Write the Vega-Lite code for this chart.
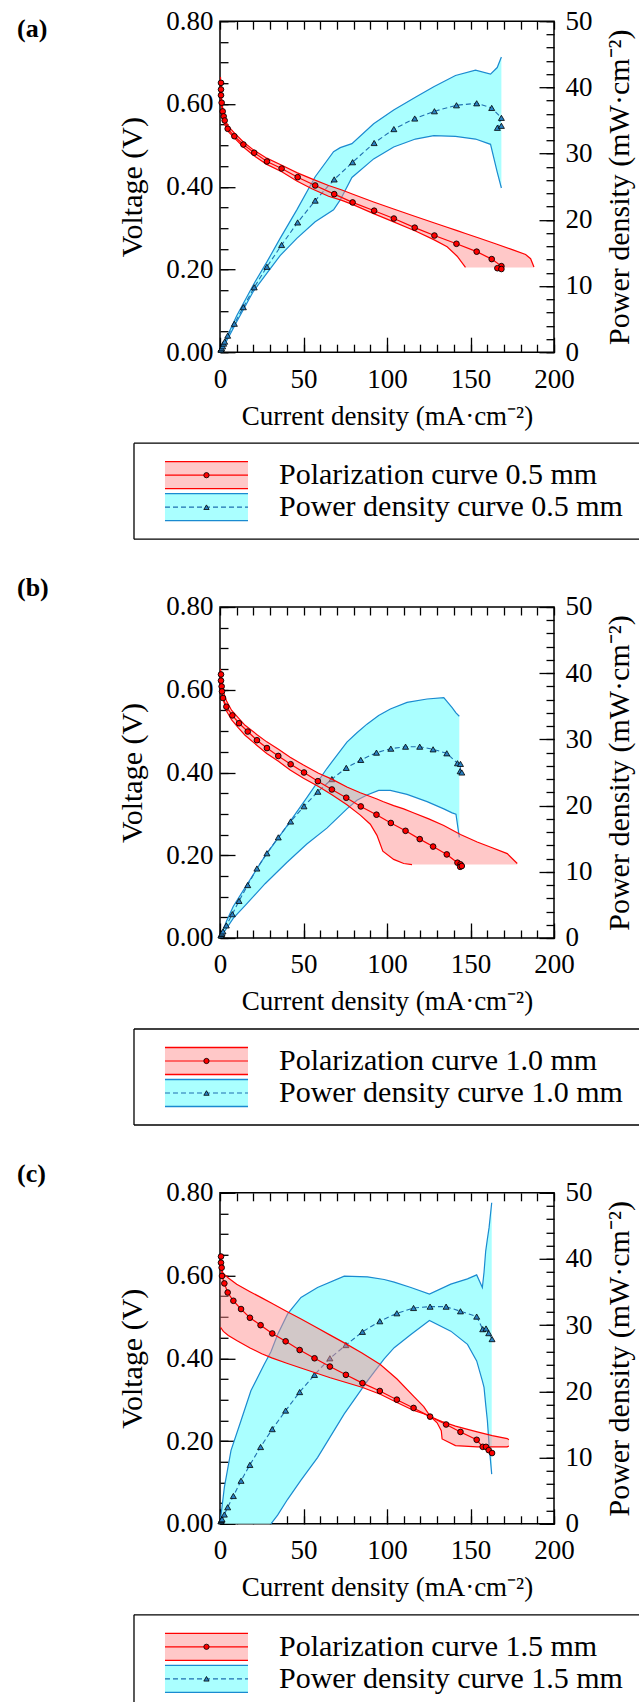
{
"$schema": "https://vega.github.io/schema/vega-lite/v6.json",
"background": "white",
"padding": {"left": 16, "top": 6.2, "right": 0, "bottom": 0},
"spacing": 33.8,
"vconcat": [
{"spacing": 12, "vconcat": [
{"width": 334, "height": 331,
 "view": {"stroke": "#000", "strokeWidth": 1.5},
 "title": {"text": "(a)", "anchor": "start", "frame": "group", "orient": "top", "dx": -203, "dy": 48, "offset": 0, "baseline": "middle", "font": "Liberation Serif", "fontSize": 26, "fontWeight": "bold", "color": "#000"},
 "resolve": {"scale": {"y": "independent"}, "axis": {"x": "independent", "y": "independent"}},
 "layer": [
  {"data": {"name": "pA"}, "mark": {"type": "area", "color": "#aaffff", "opacity": 1},
   "encoding": {"x": {"field": "j", "type": "quantitative", "scale": {"domain": [0, 200], "nice": false}, "axis": {"orient": "bottom", "values": [0, 50, 100, 150, 200], "tickSize": -15, "labelPadding": 29, "title": "Current density (mA·cm⁻²)", "titlePadding": 11}},
    "y": {"field": "up", "type": "quantitative", "scale": {"domain": [0, 50], "nice": false}, "axis": {"orient": "right", "values": [0, 10, 20, 30, 40, 50], "tickSize": -15, "labelPadding": 26, "title": "Power density (mW·cm⁻²)", "titleFontSize": 30, "titlePadding": 13, "titleAngle": 270, "titleBaseline": "top"}},
    "y2": {"field": "lo"}}},
  {"data": {"name": "pA"}, "mark": {"type": "line", "color": "#1a8ad0", "strokeWidth": 1.2},
   "encoding": {"x": {"field": "j", "type": "quantitative", "scale": {"domain": [0, 200], "nice": false}, "axis": {"orient": "bottom", "values": [0,10,20,30,40,50,60,70,80,90,100,110,120,130,140,150,160,170,180,190,200], "tickSize": -8, "labels": false, "title": null}},
    "y": {"field": "up", "type": "quantitative", "scale": {"domain": [0, 50], "nice": false}, "axis": {"orient": "right", "values": [0,2,4,6,8,10,12,14,16,18,20,22,24,26,28,30,32,34,36,38,40,42,44,46,48,50], "tickSize": -8, "labels": false, "title": null}}}},
  {"data": {"name": "pA"}, "mark": {"type": "line", "color": "#1a8ad0", "strokeWidth": 1.2},
   "encoding": {"x": {"field": "j", "type": "quantitative", "scale": {"domain": [0, 200], "nice": false}, "axis": {"orient": "top", "values": [0,10,20,30,40,50,60,70,80,90,100,110,120,130,140,150,160,170,180,190,200], "tickSize": -8, "labels": false, "title": null}},
    "y": {"field": "lo", "type": "quantitative", "scale": {"domain": [0, 50], "nice": false}, "axis": null}}},
  {"data": {"name": "mA"}, "mark": {"type": "line", "color": "#1f6fb0", "strokeWidth": 1.1, "strokeDash": [5, 3]},
   "encoding": {"x": {"field": "j", "type": "quantitative", "scale": {"domain": [0, 200], "nice": false}, "axis": null},
    "y": {"field": "p", "type": "quantitative", "scale": {"domain": [0, 50], "nice": false}, "axis": null}, "order": {"field": "n"}}},
  {"data": {"name": "mA"}, "mark": {"type": "point", "shape": "triangle-up", "filled": true, "color": "#2a82c4", "stroke": "#000", "strokeWidth": 0.8, "size": 36, "opacity": 1},
   "encoding": {"x": {"field": "j", "type": "quantitative", "scale": {"domain": [0, 200], "nice": false}, "axis": null},
    "y": {"field": "p", "type": "quantitative", "scale": {"domain": [0, 50], "nice": false}, "axis": null}}},
  {"data": {"name": "vA"}, "mark": {"type": "area", "color": "#ff8a8a", "opacity": 0.47},
   "encoding": {"x": {"field": "j", "type": "quantitative", "scale": {"domain": [0, 200], "nice": false}, "axis": null},
    "y": {"field": "up", "type": "quantitative", "scale": {"domain": [0, 0.8], "nice": false}, "axis": {"orient": "left", "values": [0, 0.2, 0.4, 0.6, 0.8], "format": ".2f", "tickSize": -15, "labelPadding": 22, "title": "Voltage (V)", "titleFontSize": 30, "titlePadding": 18}},
    "y2": {"field": "lo"}}},
  {"data": {"name": "vA"}, "mark": {"type": "line", "color": "#ff0000", "strokeWidth": 1.2},
   "encoding": {"x": {"field": "j", "type": "quantitative", "scale": {"domain": [0, 200], "nice": false}, "axis": null},
    "y": {"field": "up", "type": "quantitative", "scale": {"domain": [0, 0.8], "nice": false}, "axis": {"orient": "left", "values": [0,0.05,0.1,0.15,0.2,0.25,0.3,0.35,0.4,0.45,0.5,0.55,0.6,0.65,0.7,0.75,0.8], "tickSize": -8, "labels": false, "title": null}}}},
  {"data": {"name": "vA"}, "transform": [{"filter": "datum.j <= 147"}], "mark": {"type": "line", "color": "#ff0000", "strokeWidth": 1.2},
   "encoding": {"x": {"field": "j", "type": "quantitative", "scale": {"domain": [0, 200], "nice": false}, "axis": null},
    "y": {"field": "lo", "type": "quantitative", "scale": {"domain": [0, 0.8], "nice": false}, "axis": null}}},
  {"data": {"name": "mA"}, "mark": {"type": "line", "color": "#ff0000", "strokeWidth": 1.2},
   "encoding": {"x": {"field": "j", "type": "quantitative", "scale": {"domain": [0, 200], "nice": false}, "axis": null},
    "y": {"field": "v", "type": "quantitative", "scale": {"domain": [0, 0.8], "nice": false}, "axis": null}, "order": {"field": "n"}}},
  {"data": {"name": "mA"}, "mark": {"type": "point", "shape": "circle", "filled": true, "color": "#ff0000", "stroke": "#000", "strokeWidth": 0.9, "size": 32, "opacity": 1},
   "encoding": {"x": {"field": "j", "type": "quantitative", "scale": {"domain": [0, 200], "nice": false}, "axis": null},
    "y": {"field": "v", "type": "quantitative", "scale": {"domain": [0, 0.8], "nice": false}, "axis": null}}}
 ]},
{"width": 334, "height": 96, "view": {"stroke": null},
 "data": {"name": "legA"},
 "layer": [
  {"data": {"values": [{}]}, "mark": {"type": "rule", "color": "#000", "strokeWidth": 1.3},
   "encoding": {"x": {"datum": -0.2575, "type": "quantitative", "scale": {"domain": [0, 1], "nice": false}, "axis": null}, "x2": {"datum": 1.255},
    "y": {"datum": 0, "type": "quantitative", "scale": {"domain": [0, 3], "reverse": true, "nice": false}, "axis": null}}},
  {"data": {"values": [{}]}, "mark": {"type": "rule", "color": "#000", "strokeWidth": 1.3},
   "encoding": {"x": {"datum": -0.2575, "type": "quantitative", "scale": {"domain": [0, 1], "nice": false}, "axis": null}, "x2": {"datum": 1.255},
    "y": {"datum": 3, "type": "quantitative", "scale": {"domain": [0, 3], "reverse": true, "nice": false}, "axis": null}}},
  {"data": {"values": [{}]}, "mark": {"type": "rule", "color": "#000", "strokeWidth": 1.3},
   "encoding": {"x": {"datum": -0.2575, "type": "quantitative", "scale": {"domain": [0, 1], "nice": false}, "axis": null},
    "y": {"datum": 0, "type": "quantitative", "scale": {"domain": [0, 3], "reverse": true, "nice": false}, "axis": null}, "y2": {"datum": 3}}},
  {"mark": {"type": "rect", "width": 83, "height": 27},
   "encoding": {"x": {"datum": -0.0405, "type": "quantitative", "scale": {"domain": [0, 1], "nice": false}, "axis": null},
    "y": {"field": "row", "type": "quantitative", "scale": {"domain": [0, 3], "reverse": true, "nice": false}, "axis": null},
    "color": {"field": "series", "type": "nominal", "scale": {"domain": ["pol", "pow"], "range": ["#ffc8c8", "#aaffff"]}, "legend": null}}},
  {"mark": {"type": "rule", "strokeWidth": 1.3, "yOffset": -13.5},
   "encoding": {"x": {"datum": -0.1647, "type": "quantitative", "scale": {"domain": [0, 1], "nice": false}, "axis": null}, "x2": {"datum": 0.0838},
    "y": {"field": "row", "type": "quantitative", "scale": {"domain": [0, 3], "reverse": true, "nice": false}, "axis": null},
    "stroke": {"field": "series", "type": "nominal", "scale": {"domain": ["pol", "pow"], "range": ["#ff0000", "#1a8ad0"]}, "legend": null}}},
  {"mark": {"type": "rule", "strokeWidth": 1.3, "yOffset": 13.5},
   "encoding": {"x": {"datum": -0.1647, "type": "quantitative", "scale": {"domain": [0, 1], "nice": false}, "axis": null}, "x2": {"datum": 0.0838},
    "y": {"field": "row", "type": "quantitative", "scale": {"domain": [0, 3], "reverse": true, "nice": false}, "axis": null},
    "stroke": {"field": "series", "type": "nominal", "scale": {"domain": ["pol", "pow"], "range": ["#ff0000", "#1a8ad0"]}, "legend": null}}},
  {"mark": {"type": "rule", "strokeWidth": 1.2},
   "encoding": {"x": {"datum": -0.1647, "type": "quantitative", "scale": {"domain": [0, 1], "nice": false}, "axis": null}, "x2": {"datum": 0.0838},
    "y": {"field": "row", "type": "quantitative", "scale": {"domain": [0, 3], "reverse": true, "nice": false}, "axis": null},
    "stroke": {"field": "series", "type": "nominal", "scale": {"domain": ["pol", "pow"], "range": ["#ff0000", "#1f6fb0"]}, "legend": null},
    "strokeDash": {"field": "series", "type": "nominal", "scale": {"domain": ["pol", "pow"], "range": [[1, 0], [5, 3]]}, "legend": null}}},
  {"mark": {"type": "point", "filled": true, "stroke": "#000", "strokeWidth": 0.8, "size": 28, "opacity": 1},
   "encoding": {"x": {"datum": -0.0405, "type": "quantitative", "scale": {"domain": [0, 1], "nice": false}, "axis": null},
    "y": {"field": "row", "type": "quantitative", "scale": {"domain": [0, 3], "reverse": true, "nice": false}, "axis": null},
    "shape": {"field": "series", "type": "nominal", "scale": {"domain": ["pol", "pow"], "range": ["circle", "triangle-up"]}, "legend": null},
    "color": {"field": "series", "type": "nominal", "scale": {"domain": ["pol", "pow"], "range": ["#ff0000", "#2a82c4"]}, "legend": null}}},
  {"mark": {"type": "text", "align": "left", "baseline": "middle", "font": "Liberation Serif", "fontSize": 30, "color": "#000"},
   "encoding": {"x": {"datum": 0.1766, "type": "quantitative", "scale": {"domain": [0, 1], "nice": false}, "axis": null},
    "y": {"field": "row", "type": "quantitative", "scale": {"domain": [0, 3], "reverse": true, "nice": false}, "axis": null},
    "text": {"field": "label"}}}
 ],
 "resolve": {"scale": {"color": "independent", "stroke": "independent"}}}
]},
{"spacing": 12, "vconcat": [
{"width": 334, "height": 331,
 "view": {"stroke": "#000", "strokeWidth": 1.5},
 "title": {"text": "(b)", "anchor": "start", "frame": "group", "orient": "top", "dx": -203, "dy": 21, "offset": 0, "baseline": "middle", "font": "Liberation Serif", "fontSize": 26, "fontWeight": "bold", "color": "#000"},
 "resolve": {"scale": {"y": "independent"}, "axis": {"x": "independent", "y": "independent"}},
 "layer": [
  {"data": {"name": "pB"}, "mark": {"type": "area", "color": "#aaffff", "opacity": 1},
   "encoding": {"x": {"field": "j", "type": "quantitative", "scale": {"domain": [0, 200], "nice": false}, "axis": {"orient": "bottom", "values": [0, 50, 100, 150, 200], "tickSize": -15, "labelPadding": 29, "title": "Current density (mA·cm⁻²)", "titlePadding": 11}},
    "y": {"field": "up", "type": "quantitative", "scale": {"domain": [0, 50], "nice": false}, "axis": {"orient": "right", "values": [0, 10, 20, 30, 40, 50], "tickSize": -15, "labelPadding": 26, "title": "Power density (mW·cm⁻²)", "titleFontSize": 30, "titlePadding": 13, "titleAngle": 270, "titleBaseline": "top"}},
    "y2": {"field": "lo"}}},
  {"data": {"name": "pB"}, "mark": {"type": "line", "color": "#1a8ad0", "strokeWidth": 1.2},
   "encoding": {"x": {"field": "j", "type": "quantitative", "scale": {"domain": [0, 200], "nice": false}, "axis": {"orient": "bottom", "values": [0,10,20,30,40,50,60,70,80,90,100,110,120,130,140,150,160,170,180,190,200], "tickSize": -8, "labels": false, "title": null}},
    "y": {"field": "up", "type": "quantitative", "scale": {"domain": [0, 50], "nice": false}, "axis": {"orient": "right", "values": [0,2,4,6,8,10,12,14,16,18,20,22,24,26,28,30,32,34,36,38,40,42,44,46,48,50], "tickSize": -8, "labels": false, "title": null}}}},
  {"data": {"name": "pB"}, "mark": {"type": "line", "color": "#1a8ad0", "strokeWidth": 1.2},
   "encoding": {"x": {"field": "j", "type": "quantitative", "scale": {"domain": [0, 200], "nice": false}, "axis": {"orient": "top", "values": [0,10,20,30,40,50,60,70,80,90,100,110,120,130,140,150,160,170,180,190,200], "tickSize": -8, "labels": false, "title": null}},
    "y": {"field": "lo", "type": "quantitative", "scale": {"domain": [0, 50], "nice": false}, "axis": null}}},
  {"data": {"name": "mB"}, "mark": {"type": "line", "color": "#1f6fb0", "strokeWidth": 1.1, "strokeDash": [5, 3]},
   "encoding": {"x": {"field": "j", "type": "quantitative", "scale": {"domain": [0, 200], "nice": false}, "axis": null},
    "y": {"field": "p", "type": "quantitative", "scale": {"domain": [0, 50], "nice": false}, "axis": null}, "order": {"field": "n"}}},
  {"data": {"name": "mB"}, "mark": {"type": "point", "shape": "triangle-up", "filled": true, "color": "#2a82c4", "stroke": "#000", "strokeWidth": 0.8, "size": 36, "opacity": 1},
   "encoding": {"x": {"field": "j", "type": "quantitative", "scale": {"domain": [0, 200], "nice": false}, "axis": null},
    "y": {"field": "p", "type": "quantitative", "scale": {"domain": [0, 50], "nice": false}, "axis": null}}},
  {"data": {"name": "vB"}, "mark": {"type": "area", "color": "#ff8a8a", "opacity": 0.47},
   "encoding": {"x": {"field": "j", "type": "quantitative", "scale": {"domain": [0, 200], "nice": false}, "axis": null},
    "y": {"field": "up", "type": "quantitative", "scale": {"domain": [0, 0.8], "nice": false}, "axis": {"orient": "left", "values": [0, 0.2, 0.4, 0.6, 0.8], "format": ".2f", "tickSize": -15, "labelPadding": 22, "title": "Voltage (V)", "titleFontSize": 30, "titlePadding": 18}},
    "y2": {"field": "lo"}}},
  {"data": {"name": "vB"}, "mark": {"type": "line", "color": "#ff0000", "strokeWidth": 1.2},
   "encoding": {"x": {"field": "j", "type": "quantitative", "scale": {"domain": [0, 200], "nice": false}, "axis": null},
    "y": {"field": "up", "type": "quantitative", "scale": {"domain": [0, 0.8], "nice": false}, "axis": {"orient": "left", "values": [0,0.05,0.1,0.15,0.2,0.25,0.3,0.35,0.4,0.45,0.5,0.55,0.6,0.65,0.7,0.75,0.8], "tickSize": -8, "labels": false, "title": null}}}},
  {"data": {"name": "vB"}, "transform": [{"filter": "datum.j <= 115"}], "mark": {"type": "line", "color": "#ff0000", "strokeWidth": 1.2},
   "encoding": {"x": {"field": "j", "type": "quantitative", "scale": {"domain": [0, 200], "nice": false}, "axis": null},
    "y": {"field": "lo", "type": "quantitative", "scale": {"domain": [0, 0.8], "nice": false}, "axis": null}}},
  {"data": {"name": "mB"}, "mark": {"type": "line", "color": "#ff0000", "strokeWidth": 1.2},
   "encoding": {"x": {"field": "j", "type": "quantitative", "scale": {"domain": [0, 200], "nice": false}, "axis": null},
    "y": {"field": "v", "type": "quantitative", "scale": {"domain": [0, 0.8], "nice": false}, "axis": null}, "order": {"field": "n"}}},
  {"data": {"name": "mB"}, "mark": {"type": "point", "shape": "circle", "filled": true, "color": "#ff0000", "stroke": "#000", "strokeWidth": 0.9, "size": 32, "opacity": 1},
   "encoding": {"x": {"field": "j", "type": "quantitative", "scale": {"domain": [0, 200], "nice": false}, "axis": null},
    "y": {"field": "v", "type": "quantitative", "scale": {"domain": [0, 0.8], "nice": false}, "axis": null}}}
 ]},
{"width": 334, "height": 96, "view": {"stroke": null},
 "data": {"name": "legB"},
 "layer": [
  {"data": {"values": [{}]}, "mark": {"type": "rule", "color": "#000", "strokeWidth": 1.3},
   "encoding": {"x": {"datum": -0.2575, "type": "quantitative", "scale": {"domain": [0, 1], "nice": false}, "axis": null}, "x2": {"datum": 1.255},
    "y": {"datum": 0, "type": "quantitative", "scale": {"domain": [0, 3], "reverse": true, "nice": false}, "axis": null}}},
  {"data": {"values": [{}]}, "mark": {"type": "rule", "color": "#000", "strokeWidth": 1.3},
   "encoding": {"x": {"datum": -0.2575, "type": "quantitative", "scale": {"domain": [0, 1], "nice": false}, "axis": null}, "x2": {"datum": 1.255},
    "y": {"datum": 3, "type": "quantitative", "scale": {"domain": [0, 3], "reverse": true, "nice": false}, "axis": null}}},
  {"data": {"values": [{}]}, "mark": {"type": "rule", "color": "#000", "strokeWidth": 1.3},
   "encoding": {"x": {"datum": -0.2575, "type": "quantitative", "scale": {"domain": [0, 1], "nice": false}, "axis": null},
    "y": {"datum": 0, "type": "quantitative", "scale": {"domain": [0, 3], "reverse": true, "nice": false}, "axis": null}, "y2": {"datum": 3}}},
  {"mark": {"type": "rect", "width": 83, "height": 27},
   "encoding": {"x": {"datum": -0.0405, "type": "quantitative", "scale": {"domain": [0, 1], "nice": false}, "axis": null},
    "y": {"field": "row", "type": "quantitative", "scale": {"domain": [0, 3], "reverse": true, "nice": false}, "axis": null},
    "color": {"field": "series", "type": "nominal", "scale": {"domain": ["pol", "pow"], "range": ["#ffc8c8", "#aaffff"]}, "legend": null}}},
  {"mark": {"type": "rule", "strokeWidth": 1.3, "yOffset": -13.5},
   "encoding": {"x": {"datum": -0.1647, "type": "quantitative", "scale": {"domain": [0, 1], "nice": false}, "axis": null}, "x2": {"datum": 0.0838},
    "y": {"field": "row", "type": "quantitative", "scale": {"domain": [0, 3], "reverse": true, "nice": false}, "axis": null},
    "stroke": {"field": "series", "type": "nominal", "scale": {"domain": ["pol", "pow"], "range": ["#ff0000", "#1a8ad0"]}, "legend": null}}},
  {"mark": {"type": "rule", "strokeWidth": 1.3, "yOffset": 13.5},
   "encoding": {"x": {"datum": -0.1647, "type": "quantitative", "scale": {"domain": [0, 1], "nice": false}, "axis": null}, "x2": {"datum": 0.0838},
    "y": {"field": "row", "type": "quantitative", "scale": {"domain": [0, 3], "reverse": true, "nice": false}, "axis": null},
    "stroke": {"field": "series", "type": "nominal", "scale": {"domain": ["pol", "pow"], "range": ["#ff0000", "#1a8ad0"]}, "legend": null}}},
  {"mark": {"type": "rule", "strokeWidth": 1.2},
   "encoding": {"x": {"datum": -0.1647, "type": "quantitative", "scale": {"domain": [0, 1], "nice": false}, "axis": null}, "x2": {"datum": 0.0838},
    "y": {"field": "row", "type": "quantitative", "scale": {"domain": [0, 3], "reverse": true, "nice": false}, "axis": null},
    "stroke": {"field": "series", "type": "nominal", "scale": {"domain": ["pol", "pow"], "range": ["#ff0000", "#1f6fb0"]}, "legend": null},
    "strokeDash": {"field": "series", "type": "nominal", "scale": {"domain": ["pol", "pow"], "range": [[1, 0], [5, 3]]}, "legend": null}}},
  {"mark": {"type": "point", "filled": true, "stroke": "#000", "strokeWidth": 0.8, "size": 28, "opacity": 1},
   "encoding": {"x": {"datum": -0.0405, "type": "quantitative", "scale": {"domain": [0, 1], "nice": false}, "axis": null},
    "y": {"field": "row", "type": "quantitative", "scale": {"domain": [0, 3], "reverse": true, "nice": false}, "axis": null},
    "shape": {"field": "series", "type": "nominal", "scale": {"domain": ["pol", "pow"], "range": ["circle", "triangle-up"]}, "legend": null},
    "color": {"field": "series", "type": "nominal", "scale": {"domain": ["pol", "pow"], "range": ["#ff0000", "#2a82c4"]}, "legend": null}}},
  {"mark": {"type": "text", "align": "left", "baseline": "middle", "font": "Liberation Serif", "fontSize": 30, "color": "#000"},
   "encoding": {"x": {"datum": 0.1766, "type": "quantitative", "scale": {"domain": [0, 1], "nice": false}, "axis": null},
    "y": {"field": "row", "type": "quantitative", "scale": {"domain": [0, 3], "reverse": true, "nice": false}, "axis": null},
    "text": {"field": "label"}}}
 ],
 "resolve": {"scale": {"color": "independent", "stroke": "independent"}}}
]},
{"spacing": 12, "vconcat": [
{"width": 334, "height": 331,
 "view": {"stroke": "#000", "strokeWidth": 1.5},
 "title": {"text": "(c)", "anchor": "start", "frame": "group", "orient": "top", "dx": -203, "dy": 21, "offset": 0, "baseline": "middle", "font": "Liberation Serif", "fontSize": 26, "fontWeight": "bold", "color": "#000"},
 "resolve": {"scale": {"y": "independent"}, "axis": {"x": "independent", "y": "independent"}},
 "layer": [
  {"data": {"name": "pC"}, "mark": {"type": "area", "color": "#aaffff", "opacity": 1},
   "encoding": {"x": {"field": "j", "type": "quantitative", "scale": {"domain": [0, 200], "nice": false}, "axis": {"orient": "bottom", "values": [0, 50, 100, 150, 200], "tickSize": -15, "labelPadding": 29, "title": "Current density (mA·cm⁻²)", "titlePadding": 11}},
    "y": {"field": "up", "type": "quantitative", "scale": {"domain": [0, 50], "nice": false}, "axis": {"orient": "right", "values": [0, 10, 20, 30, 40, 50], "tickSize": -15, "labelPadding": 26, "title": "Power density (mW·cm⁻²)", "titleFontSize": 30, "titlePadding": 13, "titleAngle": 270, "titleBaseline": "top"}},
    "y2": {"field": "lo"}}},
  {"data": {"name": "pC"}, "mark": {"type": "line", "color": "#1a8ad0", "strokeWidth": 1.2},
   "encoding": {"x": {"field": "j", "type": "quantitative", "scale": {"domain": [0, 200], "nice": false}, "axis": {"orient": "bottom", "values": [0,10,20,30,40,50,60,70,80,90,100,110,120,130,140,150,160,170,180,190,200], "tickSize": -8, "labels": false, "title": null}},
    "y": {"field": "up", "type": "quantitative", "scale": {"domain": [0, 50], "nice": false}, "axis": {"orient": "right", "values": [0,2,4,6,8,10,12,14,16,18,20,22,24,26,28,30,32,34,36,38,40,42,44,46,48,50], "tickSize": -8, "labels": false, "title": null}}}},
  {"data": {"name": "pC"}, "transform": [{"filter": "datum.j >= 30.5"}], "mark": {"type": "line", "color": "#1a8ad0", "strokeWidth": 1.2},
   "encoding": {"x": {"field": "j", "type": "quantitative", "scale": {"domain": [0, 200], "nice": false}, "axis": {"orient": "top", "values": [0,10,20,30,40,50,60,70,80,90,100,110,120,130,140,150,160,170,180,190,200], "tickSize": -8, "labels": false, "title": null}},
    "y": {"field": "lo", "type": "quantitative", "scale": {"domain": [0, 50], "nice": false}, "axis": null}}},
  {"data": {"name": "mC"}, "mark": {"type": "line", "color": "#1f6fb0", "strokeWidth": 1.1, "strokeDash": [5, 3]},
   "encoding": {"x": {"field": "j", "type": "quantitative", "scale": {"domain": [0, 200], "nice": false}, "axis": null},
    "y": {"field": "p", "type": "quantitative", "scale": {"domain": [0, 50], "nice": false}, "axis": null}, "order": {"field": "n"}}},
  {"data": {"name": "mC"}, "mark": {"type": "point", "shape": "triangle-up", "filled": true, "color": "#2a82c4", "stroke": "#000", "strokeWidth": 0.8, "size": 36, "opacity": 1},
   "encoding": {"x": {"field": "j", "type": "quantitative", "scale": {"domain": [0, 200], "nice": false}, "axis": null},
    "y": {"field": "p", "type": "quantitative", "scale": {"domain": [0, 50], "nice": false}, "axis": null}}},
  {"data": {"name": "vC"}, "mark": {"type": "area", "color": "#ff8a8a", "opacity": 0.47},
   "encoding": {"x": {"field": "j", "type": "quantitative", "scale": {"domain": [0, 200], "nice": false}, "axis": null},
    "y": {"field": "up", "type": "quantitative", "scale": {"domain": [0, 0.8], "nice": false}, "axis": {"orient": "left", "values": [0, 0.2, 0.4, 0.6, 0.8], "format": ".2f", "tickSize": -15, "labelPadding": 22, "title": "Voltage (V)", "titleFontSize": 30, "titlePadding": 18}},
    "y2": {"field": "lo"}}},
  {"data": {"name": "vC"}, "mark": {"type": "line", "color": "#ff0000", "strokeWidth": 1.2},
   "encoding": {"x": {"field": "j", "type": "quantitative", "scale": {"domain": [0, 200], "nice": false}, "axis": null},
    "y": {"field": "up", "type": "quantitative", "scale": {"domain": [0, 0.8], "nice": false}, "axis": {"orient": "left", "values": [0,0.05,0.1,0.15,0.2,0.25,0.3,0.35,0.4,0.45,0.5,0.55,0.6,0.65,0.7,0.75,0.8], "tickSize": -8, "labels": false, "title": null}}}},
  {"data": {"name": "vC"}, "mark": {"type": "line", "color": "#ff0000", "strokeWidth": 1.2},
   "encoding": {"x": {"field": "j", "type": "quantitative", "scale": {"domain": [0, 200], "nice": false}, "axis": null},
    "y": {"field": "lo", "type": "quantitative", "scale": {"domain": [0, 0.8], "nice": false}, "axis": null}}},
  {"data": {"name": "mC"}, "mark": {"type": "line", "color": "#ff0000", "strokeWidth": 1.2},
   "encoding": {"x": {"field": "j", "type": "quantitative", "scale": {"domain": [0, 200], "nice": false}, "axis": null},
    "y": {"field": "v", "type": "quantitative", "scale": {"domain": [0, 0.8], "nice": false}, "axis": null}, "order": {"field": "n"}}},
  {"data": {"name": "mC"}, "mark": {"type": "point", "shape": "circle", "filled": true, "color": "#ff0000", "stroke": "#000", "strokeWidth": 0.9, "size": 32, "opacity": 1},
   "encoding": {"x": {"field": "j", "type": "quantitative", "scale": {"domain": [0, 200], "nice": false}, "axis": null},
    "y": {"field": "v", "type": "quantitative", "scale": {"domain": [0, 0.8], "nice": false}, "axis": null}}}
 ]},
{"width": 334, "height": 88, "view": {"stroke": null},
 "data": {"name": "legC"},
 "layer": [
  {"data": {"values": [{}]}, "mark": {"type": "rule", "color": "#000", "strokeWidth": 1.3},
   "encoding": {"x": {"datum": -0.2575, "type": "quantitative", "scale": {"domain": [0, 1], "nice": false}, "axis": null}, "x2": {"datum": 1.255},
    "y": {"datum": 0, "type": "quantitative", "scale": {"domain": [0, 2.75], "reverse": true, "nice": false}, "axis": null}}},
  {"data": {"values": [{}]}, "mark": {"type": "rule", "color": "#000", "strokeWidth": 1.3},
   "encoding": {"x": {"datum": -0.2575, "type": "quantitative", "scale": {"domain": [0, 1], "nice": false}, "axis": null},
    "y": {"datum": 0, "type": "quantitative", "scale": {"domain": [0, 2.75], "reverse": true, "nice": false}, "axis": null}, "y2": {"datum": 2.75}}},
  {"mark": {"type": "rect", "width": 83, "height": 27},
   "encoding": {"x": {"datum": -0.0405, "type": "quantitative", "scale": {"domain": [0, 1], "nice": false}, "axis": null},
    "y": {"field": "row", "type": "quantitative", "scale": {"domain": [0, 2.75], "reverse": true, "nice": false}, "axis": null},
    "color": {"field": "series", "type": "nominal", "scale": {"domain": ["pol", "pow"], "range": ["#ffc8c8", "#aaffff"]}, "legend": null}}},
  {"mark": {"type": "rule", "strokeWidth": 1.3, "yOffset": -13.5},
   "encoding": {"x": {"datum": -0.1647, "type": "quantitative", "scale": {"domain": [0, 1], "nice": false}, "axis": null}, "x2": {"datum": 0.0838},
    "y": {"field": "row", "type": "quantitative", "scale": {"domain": [0, 2.75], "reverse": true, "nice": false}, "axis": null},
    "stroke": {"field": "series", "type": "nominal", "scale": {"domain": ["pol", "pow"], "range": ["#ff0000", "#1a8ad0"]}, "legend": null}}},
  {"mark": {"type": "rule", "strokeWidth": 1.3, "yOffset": 13.5},
   "encoding": {"x": {"datum": -0.1647, "type": "quantitative", "scale": {"domain": [0, 1], "nice": false}, "axis": null}, "x2": {"datum": 0.0838},
    "y": {"field": "row", "type": "quantitative", "scale": {"domain": [0, 2.75], "reverse": true, "nice": false}, "axis": null},
    "stroke": {"field": "series", "type": "nominal", "scale": {"domain": ["pol", "pow"], "range": ["#ff0000", "#1a8ad0"]}, "legend": null}}},
  {"mark": {"type": "rule", "strokeWidth": 1.2},
   "encoding": {"x": {"datum": -0.1647, "type": "quantitative", "scale": {"domain": [0, 1], "nice": false}, "axis": null}, "x2": {"datum": 0.0838},
    "y": {"field": "row", "type": "quantitative", "scale": {"domain": [0, 2.75], "reverse": true, "nice": false}, "axis": null},
    "stroke": {"field": "series", "type": "nominal", "scale": {"domain": ["pol", "pow"], "range": ["#ff0000", "#1f6fb0"]}, "legend": null},
    "strokeDash": {"field": "series", "type": "nominal", "scale": {"domain": ["pol", "pow"], "range": [[1, 0], [5, 3]]}, "legend": null}}},
  {"mark": {"type": "point", "filled": true, "stroke": "#000", "strokeWidth": 0.8, "size": 28, "opacity": 1},
   "encoding": {"x": {"datum": -0.0405, "type": "quantitative", "scale": {"domain": [0, 1], "nice": false}, "axis": null},
    "y": {"field": "row", "type": "quantitative", "scale": {"domain": [0, 2.75], "reverse": true, "nice": false}, "axis": null},
    "shape": {"field": "series", "type": "nominal", "scale": {"domain": ["pol", "pow"], "range": ["circle", "triangle-up"]}, "legend": null},
    "color": {"field": "series", "type": "nominal", "scale": {"domain": ["pol", "pow"], "range": ["#ff0000", "#2a82c4"]}, "legend": null}}},
  {"mark": {"type": "text", "align": "left", "baseline": "middle", "font": "Liberation Serif", "fontSize": 30, "color": "#000"},
   "encoding": {"x": {"datum": 0.1766, "type": "quantitative", "scale": {"domain": [0, 1], "nice": false}, "axis": null},
    "y": {"field": "row", "type": "quantitative", "scale": {"domain": [0, 2.75], "reverse": true, "nice": false}, "axis": null},
    "text": {"field": "label"}}}
 ],
 "resolve": {"scale": {"color": "independent", "stroke": "independent"}}}
]}
],
"datasets": {
"mA": [
{"n":1,"j":0.6,"v":0.651,"p":0.4},{"n":2,"j":0.6,"v":0.635,"p":0.4},{"n":3,"j":0.6,"v":0.621,"p":0.4},{"n":4,"j":1.0,"v":0.603,"p":0.6},
{"n":5,"j":1.6,"v":0.582,"p":0.9},{"n":6,"j":2.2,"v":0.570,"p":1.3},{"n":7,"j":2.8,"v":0.560,"p":1.6},{"n":8,"j":4.6,"v":0.540,"p":2.5},
{"n":9,"j":8.6,"v":0.522,"p":4.3},{"n":10,"j":14.0,"v":0.502,"p":6.8},{"n":11,"j":20.5,"v":0.482,"p":9.8},{"n":12,"j":28.1,"v":0.461,"p":12.9},
{"n":13,"j":36.9,"v":0.444,"p":16.2},{"n":14,"j":46.5,"v":0.423,"p":19.6},{"n":15,"j":57.0,"v":0.403,"p":22.9},{"n":16,"j":68.4,"v":0.382,"p":26.1},
{"n":17,"j":79.4,"v":0.362,"p":28.7},{"n":18,"j":92.3,"v":0.342,"p":31.6},{"n":19,"j":104.1,"v":0.323,"p":33.7},{"n":20,"j":116.6,"v":0.301,"p":35.3},
{"n":21,"j":128.4,"v":0.282,"p":36.4},{"n":22,"j":141.6,"v":0.262,"p":37.3},{"n":23,"j":153.7,"v":0.243,"p":37.6},{"n":24,"j":162.7,"v":0.225,"p":36.9},
{"n":25,"j":168.5,"v":0.208,"p":35.4},{"n":26,"j":166.1,"v":0.203,"p":33.9},{"n":27,"j":168.5,"v":0.201,"p":34.2}
],
"vA": [
{"j":0.3,"up":0.665,"lo":0.615},{"j":1,"up":0.612,"lo":0.594},{"j":2,"up":0.578,"lo":0.562},{"j":3,"up":0.562,"lo":0.549},{"j":5,"up":0.546,"lo":0.533},
{"j":9,"up":0.528,"lo":0.516},{"j":14,"up":0.508,"lo":0.496},{"j":20,"up":0.489,"lo":0.476},{"j":28,"up":0.469,"lo":0.454},{"j":37,"up":0.452,"lo":0.436},
{"j":46,"up":0.434,"lo":0.414},{"j":55,"up":0.419,"lo":0.395},{"j":65,"up":0.403,"lo":0.377},{"j":73,"up":0.392,"lo":0.367},{"j":80,"up":0.381,"lo":0.356},
{"j":92,"up":0.363,"lo":0.335},{"j":104,"up":0.346,"lo":0.315},{"j":117,"up":0.328,"lo":0.293},{"j":128,"up":0.313,"lo":0.272},{"j":136,"up":0.302,"lo":0.255},
{"j":142,"up":0.294,"lo":0.232},{"j":147,"up":0.287,"lo":0.205},{"j":155,"up":0.276,"lo":0.205},{"j":165,"up":0.262,"lo":0.205},{"j":175,"up":0.248,"lo":0.205},
{"j":183,"up":0.236,"lo":0.205},{"j":186,"up":0.226,"lo":0.205},{"j":188,"up":0.206,"lo":0.205}
],
"pA": [
{"j":0,"up":0,"lo":0},{"j":5,"up":2.8,"lo":2.2},{"j":10,"up":5.5,"lo":4.6},{"j":20,"up":10.2,"lo":9.2},{"j":28,"up":13.6,"lo":11.9},
{"j":36,"up":17.2,"lo":14.6},{"j":46,"up":21.5,"lo":17.2},{"j":57,"up":26.5,"lo":19.7},{"j":68,"up":30.3,"lo":21.5},{"j":72,"up":30.9,"lo":23.0},
{"j":79,"up":31.5,"lo":26.4},{"j":92,"up":34.5,"lo":29.2},{"j":104,"up":36.6,"lo":31.0},{"j":117,"up":38.5,"lo":32.2},{"j":128,"up":40.1,"lo":32.7},
{"j":141,"up":41.8,"lo":32.6},{"j":153,"up":42.6,"lo":32.2},{"j":162,"up":42.0,"lo":31.4},{"j":166,"up":43.0,"lo":27.2},{"j":168.5,"up":44.6,"lo":24.8}
],
"mB": [
{"n":1,"j":0.6,"v":0.637,"p":0.4},{"n":2,"j":0.6,"v":0.622,"p":0.4},{"n":3,"j":1.0,"v":0.608,"p":0.6},{"n":4,"j":1.2,"v":0.596,"p":0.7},
{"n":5,"j":1.8,"v":0.580,"p":1.0},{"n":6,"j":3.8,"v":0.559,"p":1.9},{"n":7,"j":7.4,"v":0.538,"p":3.6},{"n":8,"j":11.4,"v":0.519,"p":5.6},
{"n":9,"j":16.6,"v":0.499,"p":8.0},{"n":10,"j":22.1,"v":0.478,"p":10.5},{"n":11,"j":28.1,"v":0.459,"p":12.8},{"n":12,"j":34.9,"v":0.440,"p":15.2},
{"n":13,"j":42.3,"v":0.420,"p":17.6},{"n":14,"j":50.3,"v":0.400,"p":19.9},{"n":15,"j":58.6,"v":0.379,"p":22.1},{"n":16,"j":67.0,"v":0.359,"p":24.0},
{"n":17,"j":75.6,"v":0.339,"p":25.7},{"n":18,"j":84.3,"v":0.318,"p":26.9},{"n":19,"j":93.7,"v":0.298,"p":28.0},{"n":20,"j":102.3,"v":0.278,"p":28.6},
{"n":21,"j":111.1,"v":0.259,"p":28.9},{"n":22,"j":119.6,"v":0.239,"p":28.9},{"n":23,"j":127.6,"v":0.221,"p":28.5},{"n":24,"j":135.8,"v":0.202,"p":27.9},
{"n":25,"j":142.2,"v":0.182,"p":26.4},{"n":26,"j":144.0,"v":0.178,"p":26.3},{"n":27,"j":143.8,"v":0.172,"p":25.2},{"n":28,"j":144.8,"v":0.174,"p":25.0}
],
"vB": [
{"j":0.3,"up":0.65,"lo":0.60},{"j":2,"up":0.595,"lo":0.575},{"j":4,"up":0.572,"lo":0.548},{"j":7,"up":0.550,"lo":0.527},{"j":11,"up":0.532,"lo":0.508},
{"j":15,"up":0.514,"lo":0.490},{"j":22,"up":0.492,"lo":0.466},{"j":28,"up":0.474,"lo":0.446},{"j":35,"up":0.456,"lo":0.427},{"j":42,"up":0.437,"lo":0.406},
{"j":50,"up":0.418,"lo":0.386},{"j":59,"up":0.398,"lo":0.366},{"j":67,"up":0.384,"lo":0.346},{"j":76,"up":0.365,"lo":0.322},{"j":84,"up":0.351,"lo":0.297},
{"j":90,"up":0.342,"lo":0.275},{"j":94,"up":0.336,"lo":0.248},{"j":97.5,"up":0.330,"lo":0.210},{"j":104,"up":0.320,"lo":0.190},{"j":110,"up":0.312,"lo":0.180},
{"j":115,"up":0.304,"lo":0.1775},{"j":125,"up":0.288,"lo":0.1775},{"j":134,"up":0.272,"lo":0.1775},{"j":144,"up":0.250,"lo":0.1775},{"j":154,"up":0.232,"lo":0.1775},
{"j":163,"up":0.218,"lo":0.1775},{"j":172,"up":0.204,"lo":0.1775},{"j":178,"up":0.180,"lo":0.1775}
],
"pB": [
{"j":0,"up":0,"lo":0},{"j":4,"up":2.6,"lo":1.5},{"j":8,"up":4.8,"lo":3.0},{"j":15,"up":7.6,"lo":4.9},{"j":27,"up":12.4,"lo":8.2},
{"j":40,"up":16.9,"lo":11.4},{"j":52,"up":21.2,"lo":14.2},{"j":64,"up":25.6,"lo":16.6},{"j":76,"up":29.6,"lo":19.5},{"j":82,"up":31.0,"lo":20.8},
{"j":88,"up":32.3,"lo":21.6},{"j":95,"up":33.6,"lo":22.3},{"j":102,"up":34.6,"lo":22.3},{"j":112,"up":35.6,"lo":21.7},{"j":124,"up":36.1,"lo":20.6},
{"j":134,"up":36.3,"lo":19.5},{"j":139,"up":34.8,"lo":18.9},{"j":141.3,"up":34.0,"lo":18.7},{"j":143.3,"up":33.5,"lo":15.2}
],
"mC": [
{"n":1,"j":0.6,"v":0.646,"p":0.4},{"n":2,"j":0.6,"v":0.631,"p":0.4},{"n":3,"j":1.0,"v":0.619,"p":0.6},{"n":4,"j":1.2,"v":0.599,"p":0.7},
{"n":5,"j":2.6,"v":0.581,"p":1.4},{"n":6,"j":4.6,"v":0.559,"p":2.5},{"n":7,"j":8.0,"v":0.539,"p":4.2},{"n":8,"j":12.6,"v":0.519,"p":6.5},
{"n":9,"j":17.9,"v":0.498,"p":8.9},{"n":10,"j":24.3,"v":0.480,"p":11.6},{"n":11,"j":31.3,"v":0.460,"p":14.3},{"n":12,"j":39.3,"v":0.441,"p":17.1},
{"n":13,"j":47.7,"v":0.420,"p":19.9},{"n":14,"j":56.6,"v":0.400,"p":22.5},{"n":15,"j":65.8,"v":0.380,"p":25.0},{"n":16,"j":75.4,"v":0.360,"p":27.0},
{"n":17,"j":85.3,"v":0.340,"p":29.0},{"n":18,"j":95.7,"v":0.321,"p":30.6},{"n":19,"j":105.9,"v":0.300,"p":31.8},{"n":20,"j":115.9,"v":0.280,"p":32.6},
{"n":21,"j":125.8,"v":0.259,"p":32.8},{"n":22,"j":135.4,"v":0.240,"p":32.8},{"n":23,"j":144.0,"v":0.222,"p":32.1},{"n":24,"j":153.7,"v":0.203,"p":31.3},
{"n":25,"j":157.3,"v":0.186,"p":29.4},{"n":26,"j":159.3,"v":0.186,"p":29.5},{"n":27,"j":160.9,"v":0.178,"p":28.8},{"n":28,"j":162.9,"v":0.171,"p":27.9}
],
"vC": [
{"j":0.3,"up":0.620,"lo":0.475},{"j":2,"up":0.605,"lo":0.465},{"j":5,"up":0.594,"lo":0.455},{"j":10,"up":0.579,"lo":0.443},{"j":18,"up":0.561,"lo":0.425},
{"j":25,"up":0.546,"lo":0.411},{"j":31,"up":0.533,"lo":0.401},{"j":40,"up":0.513,"lo":0.388},{"j":48,"up":0.496,"lo":0.377},{"j":57,"up":0.476,"lo":0.365},
{"j":66,"up":0.456,"lo":0.353},{"j":75,"up":0.436,"lo":0.342},{"j":85,"up":0.413,"lo":0.330},{"j":96,"up":0.385,"lo":0.313},{"j":106,"up":0.350,"lo":0.293},
{"j":116,"up":0.308,"lo":0.274},{"j":122,"up":0.283,"lo":0.266},{"j":126,"up":0.259,"lo":0.259},{"j":130,"up":0.252,"lo":0.244},{"j":132.5,"up":0.248,"lo":0.225},
{"j":133,"up":0.247,"lo":0.205},{"j":141,"up":0.236,"lo":0.189},{"j":154,"up":0.222,"lo":0.186},{"j":163,"up":0.213,"lo":0.186},{"j":172,"up":0.206,"lo":0.186},
{"j":173,"up":0.203,"lo":0.188}
],
"pC": [
{"j":0,"up":0,"lo":0},{"j":2.6,"up":5.5,"lo":0},{"j":6.6,"up":11.1,"lo":0},{"j":12.6,"up":15.6,"lo":0},{"j":18.5,"up":20.1,"lo":0},
{"j":26.5,"up":24.1,"lo":0},{"j":30.5,"up":26.0,"lo":0},{"j":34.5,"up":28.6,"lo":1.3},{"j":40.5,"up":31.7,"lo":3.7},{"j":48.5,"up":34.2,"lo":6.6},
{"j":58.4,"up":35.7,"lo":10.0},{"j":74.4,"up":37.4,"lo":16.6},{"j":88.3,"up":37.3,"lo":21.6},{"j":98.3,"up":36.9,"lo":24.9},{"j":104.3,"up":36.5,"lo":26.6},
{"j":114.3,"up":35.7,"lo":28.6},{"j":125.4,"up":34.7,"lo":30.7},{"j":138.2,"up":36.2,"lo":29.1},{"j":148.2,"up":37.0,"lo":27.1},{"j":153.7,"up":37.6,"lo":24.6},
{"j":157.1,"up":35.7,"lo":21.6},{"j":158.1,"up":38.0,"lo":20.6},{"j":159.1,"up":41.2,"lo":18.0},{"j":160.1,"up":43.0,"lo":15.6},{"j":161.1,"up":44.7,"lo":12.0},
{"j":162.7,"up":48.5,"lo":7.5}
],
"legA": [{"series":"pol","label":"Polarization curve 0.5 mm","row":1},{"series":"pow","label":"Power density curve 0.5 mm","row":2}],
"legB": [{"series":"pol","label":"Polarization curve 1.0 mm","row":1},{"series":"pow","label":"Power density curve 1.0 mm","row":2}],
"legC": [{"series":"pol","label":"Polarization curve 1.5 mm","row":1},{"series":"pow","label":"Power density curve 1.5 mm","row":2}]
},
"config": {
 "view": {"stroke": null},
 "font": "Liberation Serif",
 "axis": {"domain": false, "grid": false, "labelFont": "Liberation Serif", "labelFontSize": 27, "titleFont": "Liberation Serif", "titleFontSize": 27, "titleFontWeight": "normal", "labelColor": "#000", "titleColor": "#000", "tickColor": "#000", "tickWidth": 1.3, "labelFlush": false, "labelOverlap": false, "zindex": 1}
}
}
